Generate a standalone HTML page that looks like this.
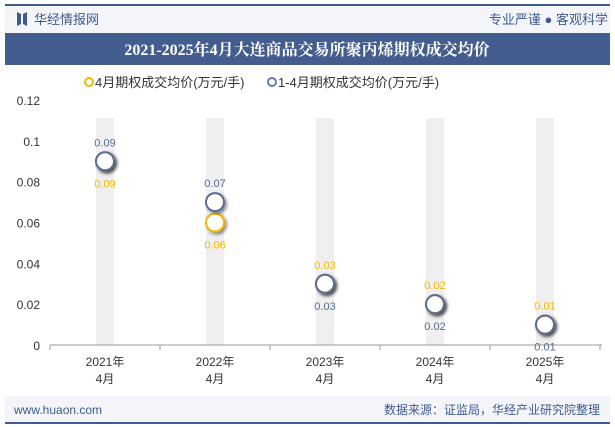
<!DOCTYPE html>
<html><head><meta charset="utf-8"><style>
body{margin:0;width:615px;height:427px;overflow:hidden;background:#fff;font-family:"Liberation Sans","Noto Sans CJK SC",sans-serif}
svg{display:block}
</style></head><body>
<svg width="615" height="427" xmlns="http://www.w3.org/2000/svg">
<defs><filter id="sh" x="-50%" y="-50%" width="200%" height="200%"><feDropShadow dx="2" dy="2" stdDeviation="1.5" flood-color="#000" flood-opacity="0.45"/></filter></defs>
<rect x="5" y="5" width="605" height="28" fill="#f3f5f9"/>
<rect x="5" y="4" width="605" height="2" fill="#3f5a8e"/>
<path d="M17 12 L21 14 L21 24 L17 26 Z M23 14 L27 12 L27 26 L23 24 Z" fill="#3f5a8e"/>
<text x="34" y="24" font-size="13" fill="#3f5a8e">华经情报网</text>
<text x="608" y="24" font-size="13" fill="#3f5a8e" text-anchor="end">专业严谨 ● 客观科学</text>
<rect x="5" y="33" width="605" height="32" fill="#435d8f"/>
<text x="307" y="55" font-size="16" font-weight="bold" fill="#fff" text-anchor="middle" font-family="Liberation Serif,'Noto Serif CJK SC',serif">2021-2025年4月大连商品交易所聚丙烯期权成交均价</text>
<g>
<circle cx="89" cy="82" r="4" fill="none" stroke="#f5b800" stroke-width="2"/>
<text x="95" y="87" font-size="13" fill="#333">4月期权成交均价(万元/手)</text>
<circle cx="272" cy="82" r="4" fill="none" stroke="#6a7aa0" stroke-width="2"/>
<text x="278" y="87" font-size="13" fill="#333">1-4月期权成交均价(万元/手)</text>
</g>
<g id="plot"></g>
<rect x="5" y="396" width="605" height="26" fill="#f3f5f9"/>
<rect x="5" y="422" width="605" height="2" fill="#3f5a8e"/>
<text x="14" y="414" font-size="12" fill="#3f5a8e">www.huaon.com</text>
<text x="600" y="414" font-size="12" fill="#3f5a8e" text-anchor="end">数据来源：证监局，华经产业研究院整理</text>
</svg>
<script>
const categories=["2021年|4月","2022年|4月","2023年|4月","2024年|4月","2025年|4月"];
const aprilValues=[0.09,0.06,0.03,0.02,0.01];
const ytdValues=[0.09,0.07,0.03,0.02,0.01];
const yTicks=[0,0.02,0.04,0.06,0.08,0.1,0.12];
const yTickLabels=["0","0.02","0.04","0.06","0.08","0.1","0.12"];
const NS="http://www.w3.org/2000/svg";
const g=document.getElementById('plot');
const X0=50,X1=600,Y0=345,Y1=100,YMAX=0.12;
const band=(X1-X0)/categories.length;
const xc=i=>X0+band*(i+0.5);
const ys=v=>Y0-v/YMAX*(Y0-Y1);
function mk(t,a,p){const e=document.createElementNS(NS,t);for(const k in a)e.setAttribute(k,a[k]);(p||g).appendChild(e);return e;}
categories.forEach((c,i)=>{
 const r=mk('rect',{x:xc(i)-9,y:118,width:18,height:Y0-118,fill:'#efefef'});
 
 
});
yTicks.forEach((t,i)=>{
 const tx=mk('text',{x:40,y:ys(t)+5,'font-size':12,fill:'#333','text-anchor':'end'});tx.textContent=yTickLabels[i];
 
 
});
const ax=mk('line',{x1:X0,y1:Y0,x2:X1+2,y2:Y0,stroke:'#999'});


for(let i=0;i<=categories.length;i++){
 const tk=mk('line',{x1:X0+band*i,y1:Y0,x2:X0+band*i,y2:Y0+5,stroke:'#999'});
 
 
}
categories.forEach((c,i)=>{
 c.split('|').forEach((s,j)=>{
  const t=mk('text',{x:xc(i),y:366+j*17,'font-size':12,fill:'#333','text-anchor':'middle'});t.textContent=s;
  
  
 });
});
function series(vals,col,name,above){
 vals.forEach((v,i)=>{
  const c=mk('circle',{cx:xc(i),cy:ys(v),r:9,fill:'#fff',stroke:col,'stroke-width':2,filter:'url(#sh)'});
  
  
 });
}
function labels(vals,col,name,aboveFn){
 vals.forEach((v,i)=>{
  const up=aboveFn(i);
  const t=mk('text',{x:xc(i),y:up?ys(v)-15:ys(v)+26,'font-size':11,fill:col,'text-anchor':'middle'});t.textContent=v.toFixed(2);
  
  
 });
}
series(aprilValues,'#f5b800','april');
series(ytdValues,'#5a6a94','jan-apr');
labels(aprilValues,'#f5b800','april',i=>i>=2);
labels(ytdValues,'#5a6a94','jan-apr',i=>i<2);
</script>
</body></html>
